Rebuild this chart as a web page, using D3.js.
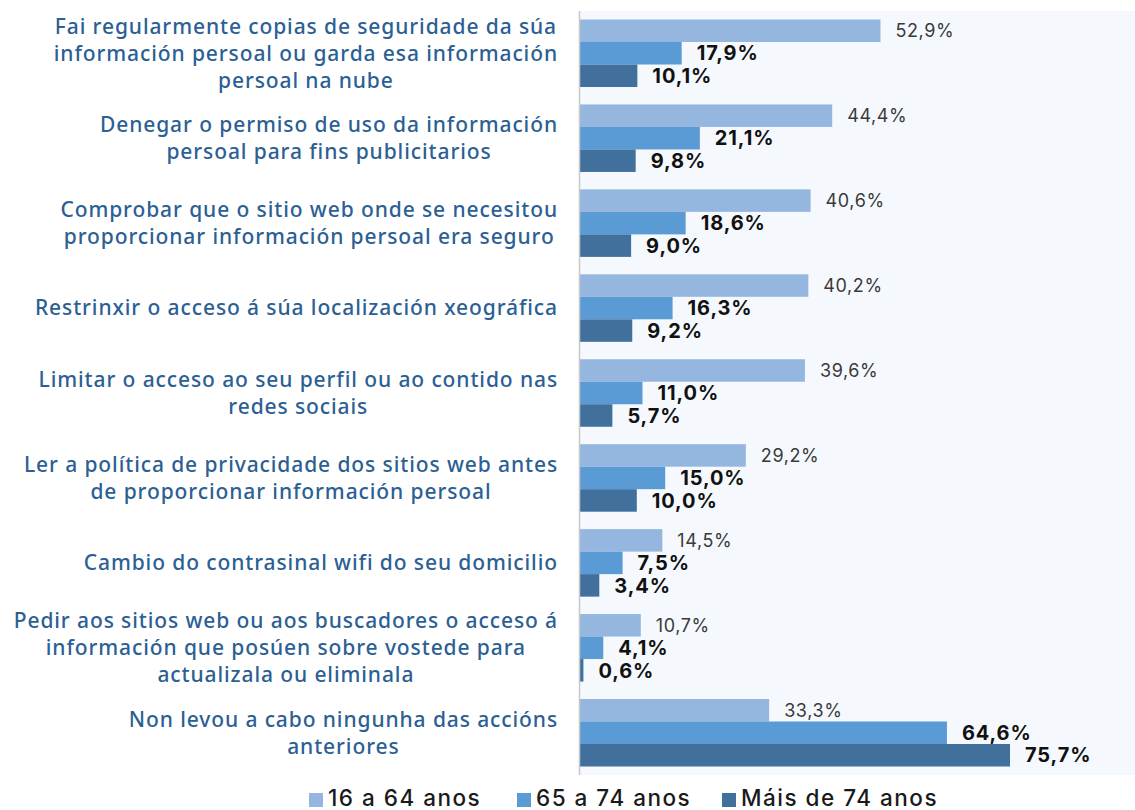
<!DOCTYPE html>
<html>
<head>
<meta charset="utf-8">
<script src="https://cdn.jsdelivr.net/npm/d3@7"></script>
<style>
  html, body { margin: 0; padding: 0; background: #ffffff; }
  svg { display: block; }
</style>
</head>
<body>
<svg id="chart" width="1135" height="810"></svg>
<script>
// Accións de protección da información persoal, por grupo de idade (%)
const categories = [
  ["Fai regularmente copias de seguridade da súa", "información persoal ou garda esa información", "persoal na nube"],
  ["Denegar o permiso de uso da información", "persoal para fins publicitarios"],
  ["Comprobar que o sitio web onde se necesitou", "proporcionar información persoal era seguro"],
  ["Restrinxir o acceso á súa localización xeográfica"],
  ["Limitar o acceso ao seu perfil ou ao contido nas", "redes sociais"],
  ["Ler a política de privacidade dos sitios web antes", "de proporcionar información persoal"],
  ["Cambio do contrasinal wifi do seu domicilio"],
  ["Pedir aos sitios web ou aos buscadores o acceso á", "información que posúen sobre vostede para", "actualizala ou eliminala"],
  ["Non levou a cabo ningunha das accións", "anteriores"]
];
const seriesNames = ["16 a 64 anos", "65 a 74 anos", "Máis de 74 anos"];
const age16to64 = [52.9, 44.4, 40.6, 40.2, 39.6, 29.2, 14.5, 10.7, 33.3];
const age65to74 = [17.9, 21.1, 18.6, 16.3, 11.0, 15.0, 7.5, 4.1, 64.6];
const ageOver74 = [10.1, 9.8, 9.0, 9.2, 5.7, 10.0, 3.4, 0.6, 75.7];
const seriesValues = [age16to64, age65to74, ageOver74];
const colors = ["#95b7df", "#5b9bd5", "#41709c"];

const svg = d3.select("#chart");
const plot = { left: 580, right: 1135, top: 11, bottom: 775 };

const x = d3.scaleLinear().domain([0, 75.7]).range([plot.left, 1010]);
const y = d3.scaleBand().domain(d3.range(categories.length))
  .range([plot.top, plot.bottom]).paddingInner(0.205).paddingOuter(0.1);
const ySub = d3.scaleBand().domain(d3.range(seriesNames.length))
  .range([0, y.bandwidth()]);

// plot background
svg.append("rect")
  .attr("x", plot.left).attr("y", plot.top)
  .attr("width", plot.right - plot.left).attr("height", plot.bottom - plot.top)
  .attr("fill", "#f5f9fd");

const fmt = v => d3.format(".1f")(v).replace(".", ",") + "%";

// bars and value labels
const groups = svg.append("g").selectAll("g")
  .data(categories.map((c, i) => i))
  .join("g")
  .attr("transform", i => `translate(0,${y(i)})`);

seriesValues.forEach((vals, s) => {
  groups.append("rect")
    .attr("x", x(0))
    .attr("y", ySub(s))
    .attr("width", i => x(vals[i]) - x(0))
    .attr("height", ySub.bandwidth())
    .attr("fill", colors[s]);
  groups.append("text")
    .attr("x", i => x(vals[i]) + 15)
    .attr("y", ySub(s) + ySub.bandwidth() / 2)
    .attr("dy", "0.36em")
    .attr("font-family", "Inter, 'Noto Sans', sans-serif")
    .attr("font-size", s === 0 ? 18 : 20)
    .attr("letter-spacing", s === 0 ? 0.6 : 0.9)
    .attr("font-weight", s === 0 ? 400 : 700)
    .attr("fill", s === 0 ? "#3a3a3a" : "#111111")
    .text(i => fmt(vals[i]));
});

// value axis baseline
svg.append("line")
  .attr("x1", plot.left - 0.5).attr("x2", plot.left - 0.5)
  .attr("y1", plot.top).attr("y2", plot.bottom)
  .attr("stroke", "#c8c8c8").attr("stroke-width", 1.5);

// category labels: lines centred within a block aligned to the right edge
const labelRight = 558;
const lineH = 27;
const labelG = svg.append("g")
  .attr("font-family", "'Noto Sans', sans-serif")
  .attr("font-size", 21)
  .attr("letter-spacing", 0.9)
  .attr("font-weight", 500)
  .attr("fill", "#2c5f93");

categories.forEach((lines, i) => {
  const cy = y(i) + y.bandwidth() / 2;
  const t = labelG.append("text");
  const tspans = lines.map((ln, k) =>
    t.append("tspan")
      .attr("y", cy + (k - (lines.length - 1) / 2) * lineH)
      .attr("dy", "0.35em")
      .text(ln));
  const widths = tspans.map(ts => ts.node().getComputedTextLength());
  const maxW = d3.max(widths);
  const centreX = labelRight - maxW / 2;
  tspans.forEach(ts => ts.attr("x", centreX).attr("text-anchor", "middle"));
});

// legend
const legend = svg.append("g")
  .attr("font-family", "Inter, 'Noto Sans', sans-serif")
  .attr("font-size", 22.5)
  .attr("letter-spacing", 1.5)
  .attr("font-weight", 500)
  .attr("fill", "#1a1a1a");
const legendX = [309, 517, 722];
seriesNames.forEach((name, s) => {
  legend.append("rect")
    .attr("x", legendX[s]).attr("y", 793)
    .attr("width", 14).attr("height", 14)
    .attr("fill", colors[s]);
  legend.append("text")
    .attr("x", legendX[s] + 19).attr("y", 798)
    .attr("dy", "0.36em")
    .text(name);
});
</script>
</body>
</html>
